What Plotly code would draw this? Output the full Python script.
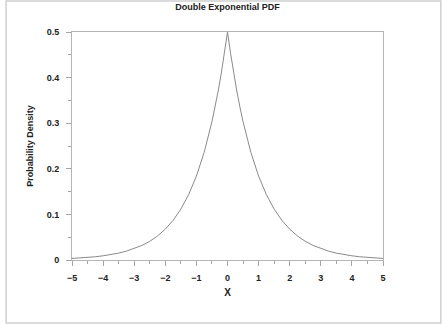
import plotly.graph_objects as go

# Values (x, probability density)
x_vals = [-5, -4.75, -4.5, -4.25, -4, -3.75, -3.5, -3.25, -3, -2.75, -2.5, -2.25, -2,
          -1.75, -1.5, -1.25, -1, -0.75, -0.5, -0.4, -0.3, -0.2, -0.1, 0,
          0.1, 0.2, 0.3, 0.4, 0.5, 0.75, 1, 1.25, 1.5, 1.75, 2, 2.25, 2.5, 2.75,
          3, 3.25, 3.5, 3.75, 4, 4.25, 4.5, 4.75, 5]
pdf_vals = [0.0034, 0.0043, 0.0056, 0.0071, 0.0092, 0.0118, 0.0151, 0.0194, 0.0249,
            0.0320, 0.0410, 0.0527, 0.0677, 0.0869, 0.1116, 0.1433, 0.1839, 0.2362,
            0.3033, 0.3352, 0.3704, 0.4094, 0.4524, 0.5,
            0.4524, 0.4094, 0.3704, 0.3352, 0.3033, 0.2362, 0.1839, 0.1433, 0.1116,
            0.0869, 0.0677, 0.0527, 0.0410, 0.0320, 0.0249, 0.0194, 0.0151, 0.0118,
            0.0092, 0.0071, 0.0056, 0.0043, 0.0034]
x_ticks = [-5, -4, -3, -2, -1, 0, 1, 2, 3, 4, 5]
y_ticks = [0, 0.1, 0.2, 0.3, 0.4, 0.5]
y_tick_text = ["0", "0.1", "0.2", "0.3", "0.4", "0.5"]

font_family = "Liberation Sans, Arial, sans-serif"
tick_font = dict(family=font_family, size=9, color="#222", weight="bold")

fig = go.Figure()
fig.add_trace(go.Scatter(x=x_vals, y=pdf_vals, mode="lines",
                         line=dict(color="#8a8a8a", width=1), showlegend=False,
                         hoverinfo="skip"))

axis_common = dict(showgrid=False, zeroline=False, showline=True, linecolor="#b5b5b5",
                   linewidth=1, ticks="outside", tickcolor="#a5a5a5", ticklen=5,
                   tickwidth=1, tickfont=tick_font)

fig.update_layout(
    width=443, height=326,
    margin=dict(l=72, r=60, t=32, b=66),
    paper_bgcolor="white", plot_bgcolor="white",
    title=dict(text="Double Exponential PDF", x=0.5, xref="paper", y=0.978,
               yanchor="middle",
               font=dict(family=font_family, size=9, color="#222", weight="bold")),
    xaxis=dict(range=[-5, 5], tickvals=x_ticks, mirror=True, ticklabelstandoff=4,
               minor=dict(dtick=0.5, ticks="outside", ticklen=3, tickcolor="#a5a5a5"),
               title=dict(text="X",
                          font=dict(family=font_family, size=10, color="#222", weight="bold"),
                          standoff=7),
               **axis_common),
    yaxis=dict(range=[0, 0.5], tickvals=y_ticks, ticktext=y_tick_text, mirror=True,
               ticklabelstandoff=5,
               minor=dict(dtick=0.05, ticks="outside", ticklen=3, tickcolor="#a5a5a5"),
               title=dict(text="Probability Density",
                          font=dict(family=font_family, size=9, color="#222", weight="bold"),
                          standoff=11),
               **axis_common),
    shapes=[dict(type="rect", xref="paper", yref="paper",
                 x0=-0.212, x1=1.186, y0=-0.276, y1=1.136,
                 line=dict(color="#cfcfcf", width=1.5), layer="below")],
)

fig.write_html("out.html")
